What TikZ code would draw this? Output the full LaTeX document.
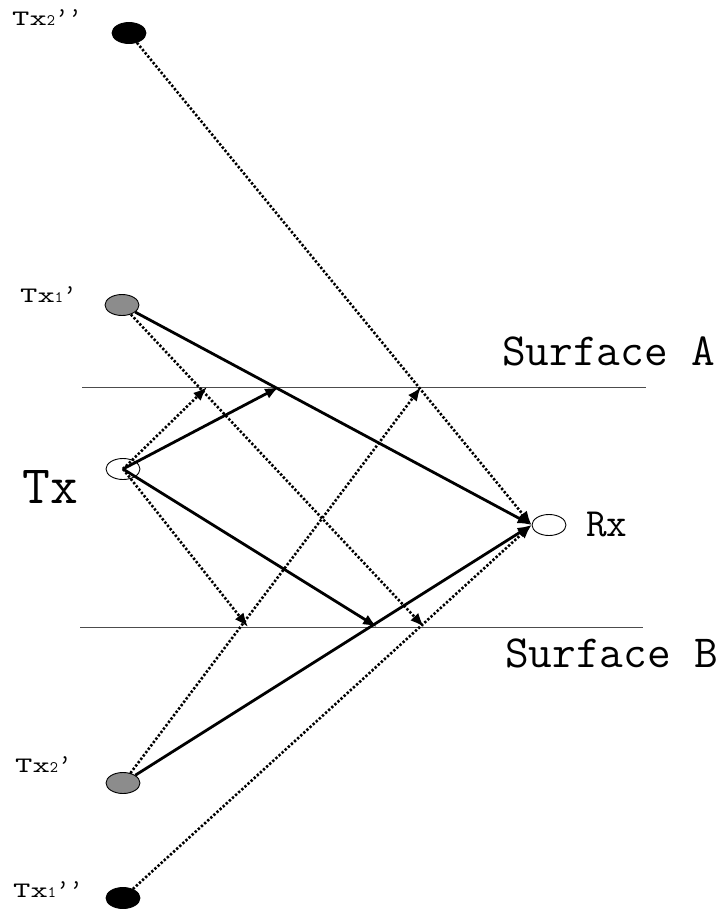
\documentclass[tikz,border=0pt]{standalone}
\usepackage{fontspec}
\newfontfamily\lblfont[FakeStretch=1.5]{lmmono10-regular.otf}
\usetikzlibrary{arrows.meta,shapes.geometric}
\tikzset{
  ant/.style={draw=black, ellipse, minimum width=34pt, minimum height=21pt, inner sep=0pt, line width=0.9pt},
  ray/.style={line width=2.8pt, -{Latex[length=14pt,width=11pt]}},
  dray/.style={line width=2.6pt, dash pattern=on 2.3pt off 1.9pt, -{Latex[length=14pt,width=11pt]}},
  surf/.style={line width=1pt, draw=black!70},
  lbl/.style={anchor=base west, inner sep=0pt},
  small/.style={lbl, font=\fontsize{22}{22}\lblfont},
  big/.style={lbl, font=\fontsize{46}{46}\ttfamily},
}
\newcommand{\subd}[1]{{\fontsize{16}{16}\ttfamily #1}}
\newcommand{\prm}[1]{{\fontsize{26}{26}\ttfamily #1}}
\begin{document}
\begin{tikzpicture}[x=1pt,y=-1pt]
\useasboundingbox (0,0) rectangle (728,911);
% surfaces
\coordinate (a1) at (82,387);
\coordinate (a2) at (646,387);
\coordinate (b1) at (80,627);
\coordinate (b2) at (643,627);
\draw[surf] (a1) -- (a2);
\draw[surf] (b1) -- (b2);
% reflection points
\coordinate (pa) at (279,387);
\coordinate (pb) at (377,627);
\coordinate (qa) at (207,387);
\coordinate (qb) at (248,627);
\coordinate (ra) at (421,387);
\coordinate (rb) at (424,627);
% antennas
\node[ant, fill=black] (t2pp) at (129,33) {};
\node[ant, fill=black!45] (t1p) at (122,305) {};
\node[ant, fill=white] (tx) at (123,469) {};
\node[ant, fill=white] (rx) at (549,525) {};
\node[ant, fill=black!45] (t2p) at (123,783) {};
\node[ant, fill=black] (t1pp) at (123,898) {};
% rays from Tx
\draw[ray] (tx.center) -- (pa);
\draw[ray] (tx.center) -- (pb);
\draw[dray] (tx.center) -- (qa);
\draw[dray] (tx.center) -- (qb);
% image rays
\draw[ray] (t1p) -- (rx.west);
\draw[ray] (t2p) -- (rx.west);
\draw[dray] (t1p) -- (rb);
\draw[dray] (t2p) -- (ra);
\draw[dray] (t2pp) -- (rx.west);
\draw[dray] (t1pp) -- (rx.west);
% labels
\node[small] (lt2pp) at (12,25) {Tx\subd{2}\prm{’’}};
\node[small] (lt1p) at (20,302) {Tx\subd{1}\prm{’}};
\node[small] (lt2p) at (15,772) {Tx\subd{2}\prm{’}};
\node[small] (lt1pp) at (13,897) {Tx\subd{1}\prm{’’}};
\node[lbl, font=\fontsize{54}{54}\ttfamily] (ltx) at (22,503) {Tx};
\node[lbl, font=\fontsize{40}{40}\ttfamily] (lrx) at (586,536) {Rx};
\node[big] (lsa) at (502,365) {Surface A};
\node[big] (lsb) at (505,667) {Surface B};
\end{tikzpicture}
\end{document}
